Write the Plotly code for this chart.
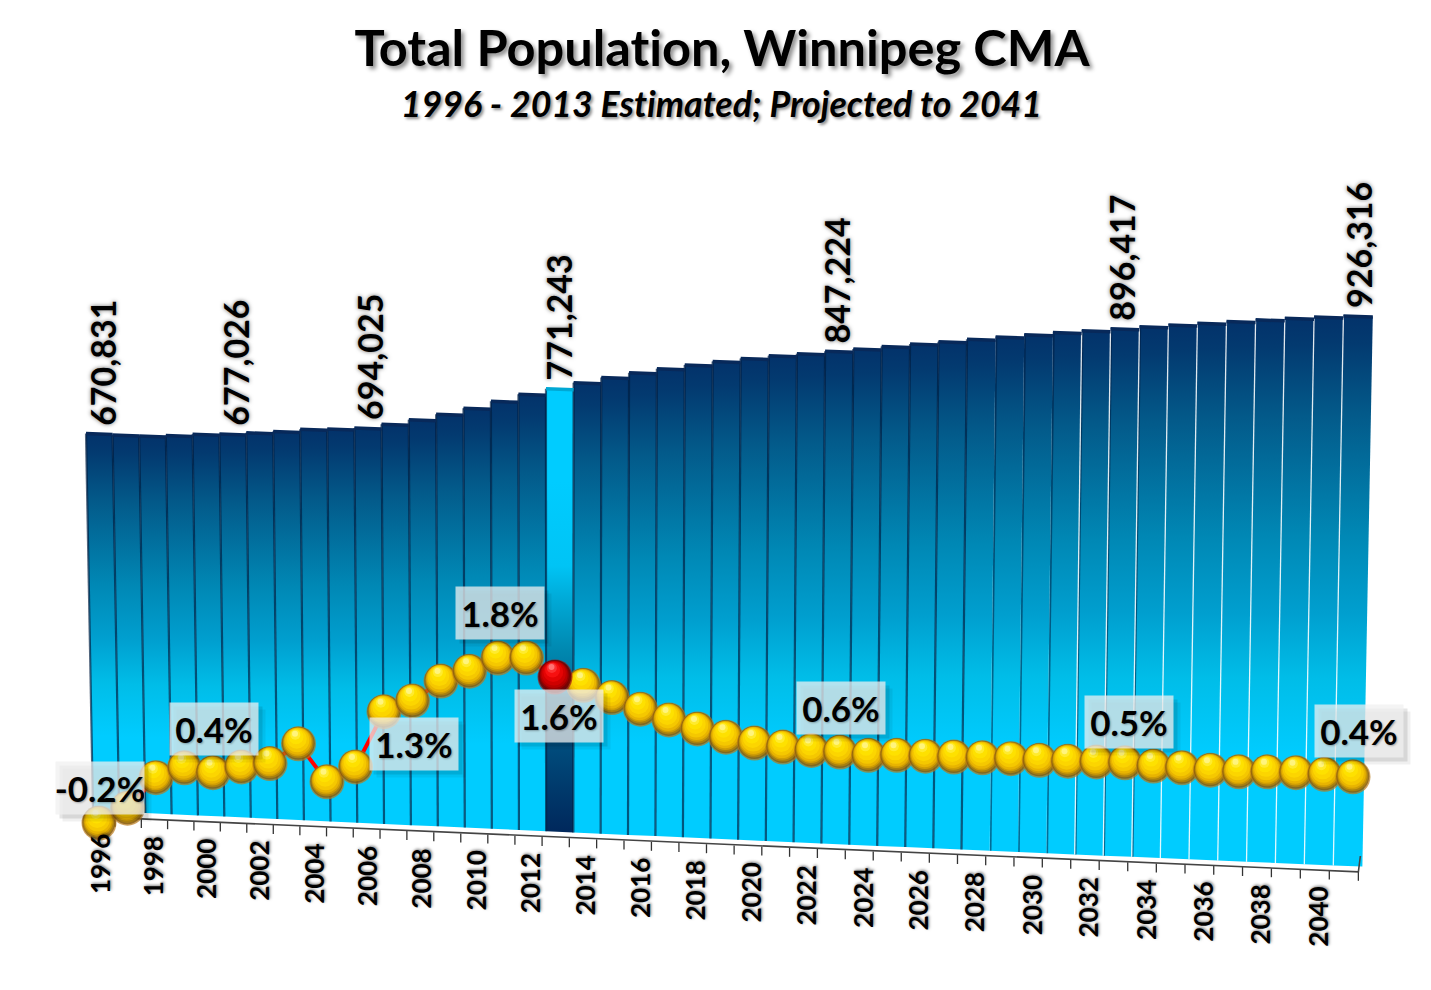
import plotly.graph_objects as go

# ---------- data ----------
years = list(range(1996, 2042))
population = [670831, 669500, 669400, 671700, 674900, 677026, 680300, 683800, 689000, 691000,
              694025, 702000, 711000, 721800, 733600, 746800, 760200, 771243, 782600, 792900,
              802300, 810700, 818300, 825200, 831600, 837600, 842000, 847224, 852500, 857800,
              863000, 868200, 873300, 878400, 883300, 888200, 892200, 896417, 900800, 905000,
              909000, 912800, 916600, 920400, 923400, 926316]
growth_years = list(range(1997, 2042))
growth = [-0.20, -0.02, 0.35, 0.47, 0.41, 0.48, 0.52, 0.76, 0.30, 0.48, 1.15, 1.28, 1.52, 1.64, 1.80,
          1.80, 1.57, 1.47, 1.32, 1.18, 1.05, 0.94, 0.84, 0.77, 0.72, 0.68, 0.66, 0.62, 0.62, 0.61,
          0.60, 0.59, 0.58, 0.56, 0.55, 0.54, 0.53, 0.49, 0.47, 0.44, 0.42, 0.42, 0.41, 0.39, 0.36]
pop_labels = {1996: ("670,831", 3), 2001: ("677,026", 3), 2006: ("694,025", 2), 2013: ("771,243", -1),
              2023: ("847,224", -3), 2033: ("896,417", -3), 2041: ("926,316", 1)}
growth_labels = {1997: ("-0.2%", 1, -35), 2001: ("0.4%", 1, -44), 2008: ("1.3%", 1, 43),
                 2011: ("1.8%", 2, -45), 2013: ("1.6%", 4, 39), 2023: ("0.6%", 1, -44),
                 2033: ("0.5%", 4, -41), 2041: ("0.4%", 6, -46)}
tick_years = list(range(1996, 2041, 2))
title_text = "Total Population, Winnipeg CMA"
subtitle_text = "1996 - 2013 Estimated; Projected to 2041"
HIGHLIGHT = 2013

W, H = 1431, 990


# ---------- axes: hidden linear scales for the perspective view ----------
def xd(px):  # screen px -> bar axis units
    return 1996 + (px - 93) / 27.54


def yd(py):  # screen px -> persons axis units
    return (811 - py) * 1770


def x2d(px):  # growth line x axis (flat overlay)
    return 1997 + (px - 99) / 28.5


def y2d(py):  # growth axis
    return (806.5 - py) / 82.5


# perspective of the tilted chart
def base_y(e):
    return 810.5 + 1.22 * e


def x_bottom(e):
    return 93 + 26.1 * e + 0.0325 * e * e


def x_top(e):
    return 86 + 26.52 * e + 0.0316 * e * e


def scale(i):
    return 5.65e-4 + 6.78e-7 * i


def top_y(i, v):
    return base_y(i + 0.5) - v * scale(i) + 1.5


body_scale = [[0, "#00ccff"], [0.2, "#00ccff"], [0.34, "#00bde8"], [0.46, "#009fcf"], [0.6, "#0088b5"],
              [0.82, "#035a8a"], [0.95, "#033a70"], [1, "#03326a"]]
hi_scale = [[0, "#00285c"], [0.1, "#003a6c"], [0.207, "#004f7f"], [0.41, "#0088b0"], [0.52, "#00a8d5"],
            [0.6, "#00c4f5"], [0.79, "#00ccff"], [1, "#00ccff"]]

fig = go.Figure()

# bars
for i, (yr, v) in enumerate(zip(years, population)):
    t = top_y(i, v)
    px = [x_bottom(i), x_top(i), x_top(i + 1), x_bottom(i + 1), x_bottom(i)]
    py = [base_y(i), t - 0.6, t + 0.6, base_y(i + 1), base_y(i)]
    fig.add_trace(go.Scatter(
        x=[xd(p) for p in px], y=[yd(p) for p in py], mode="lines", fill="toself",
        line=dict(width=0, color="rgba(0,0,0,0)"),
        fillgradient=dict(type="vertical", colorscale=hi_scale if yr == HIGHLIGHT else body_scale),
        hoverinfo="skip", showlegend=False, xaxis="x", yaxis="y"))

# separators and caps
dark_x, dark_y, thin_x, thin_y, white_x, white_y = [], [], [], [], [], []
for e in range(0, 46):
    t = top_y(e, population[e])
    ys = [yd(t), yd(base_y(e)), None]
    if e < 33:
        dark_x += [xd(x_top(e)), xd(x_bottom(e)), None]; dark_y += ys
    elif e < 39:
        thin_x += [xd(x_top(e) + 1), xd(x_bottom(e) + 1), None]; thin_y += ys
    if e >= 36:
        white_x += [xd(x_top(e)), xd(x_bottom(e)), None]; white_y += ys
fig.add_trace(go.Scatter(x=dark_x, y=dark_y, mode="lines", line=dict(color="rgba(0,30,65,0.68)", width=2.2),
                         hoverinfo="skip", showlegend=False))
fig.add_trace(go.Scatter(x=thin_x, y=thin_y, mode="lines", line=dict(color="rgba(0,30,65,0.55)", width=1.6),
                         hoverinfo="skip", showlegend=False))
fig.add_trace(go.Scatter(x=white_x, y=white_y, mode="lines", line=dict(color="rgba(255,255,255,0.85)", width=1.3),
                         hoverinfo="skip", showlegend=False))
for i, (yr, v) in enumerate(zip(years, population)):
    t = top_y(i, v)
    fig.add_trace(go.Scatter(
        x=[xd(x_top(i)), xd(x_top(i + 1))], y=[yd(t), yd(t + 1)], mode="lines",
        line=dict(color="#00a8d4" if yr == HIGHLIGHT else "#08295a", width=3.5),
        hoverinfo="skip", showlegend=False))

# floor axis with ticks
ax_x, ax_y = [], []
for e in range(0, 47):
    xx = xd(x_bottom(e) - 4)
    ax_x += [xx, xx, None]
    ax_y += [yd(816.6 + 1.2 * e), yd(825.6 + 1.2 * e), None]
fig.add_trace(go.Scatter(x=ax_x, y=ax_y, mode="lines", line=dict(color="#333333", width=1.3),
                         hoverinfo="skip", showlegend=False))
fig.add_trace(go.Scatter(
    x=[xd(x_bottom(0) - 4), xd(x_bottom(46) - 4), xd(x_bottom(46) - 2)],
    y=[yd(816.6), yd(816.6 + 1.2 * 46), yd(856)],
    mode="lines", line=dict(color="#444444", width=1.6), hoverinfo="skip", showlegend=False))

# growth line
gx = growth_years
fig.add_trace(go.Scatter(x=gx, y=growth, mode="lines", line=dict(color="#ff0000", width=4),
                         xaxis="x2", yaxis="y2", hoverinfo="skip", showlegend=False))

# spheres: stacked discs, one ball after another so that later balls cover earlier ones
disc_sizes = [35, 33, 31, 29, 27, 24, 20, 15, 10, 6]
disc_dy = [0, 0.5, 1, 1.8, 2.5, 3.5, 5, 7, 9, 10]
gold = ["#b87818", "#80580a", "#b88a08", "#e0aa00", "#f2bd00", "#fbd000", "#ffdc00", "#ffe600", "#fff040", "#fff8a0"]
ruby = ["#a01010", "#5a0000", "#800000", "#a80000", "#c40000", "#d80000", "#ec0505", "#ff1515", "#ff4040", "#ff9090"]
bx, by, bs, bc = [], [], [], []
order = [y for y in gx if y != HIGHLIGHT] + [HIGHLIGHT]
for yr in order:
    g = growth[gx.index(yr)]
    cols = ruby if yr == HIGHLIGHT else gold
    for s, dy, c in zip(disc_sizes, disc_dy, cols):
        bx.append(yr - 0.35 * dy / 28.5)
        by.append(g + dy / 82.5)
        bs.append(s)
        bc.append(c)
fig.add_trace(go.Scatter(x=bx, y=by, mode="markers", xaxis="x2", yaxis="y2", hoverinfo="skip", showlegend=False,
                         marker=dict(size=bs, color=bc, line=dict(width=0))))

annotations = []

# value labels above the bars
for i, yr in enumerate(years):
    if yr in pop_labels:
        txt, dx = pop_labels[yr]
        annotations.append(dict(
            x=xd((x_top(i) + x_top(i + 1)) / 2 + dx), y=yd(top_y(i, population[i])), xref="x", yref="y",
            text="<b>%s</b>" % txt, textangle=-90, showarrow=False, xanchor="center", yanchor="bottom",
            yshift=6, font=dict(family="Lato", size=34, color="#000000", shadow="0px 0px 4px rgba(0,0,0,0.55)")))

# year labels along the tilted floor
for yr in tick_years:
    i = yr - 1996
    annotations.append(dict(
        x=xd(100 + 26.43 * i + 0.0284 * i * i), y=yd(864 + 1.2 * i), xref="x", yref="y",
        text="<b>%d</b>" % yr, textangle=-90, showarrow=False, xanchor="center", yanchor="middle",
        font=dict(family="Lato", size=26, color="#000000", shadow="1px 1px 3px rgba(0,0,0,0.5)")))

# growth call-outs
for yr, (txt, dx, dy) in growth_labels.items():
    g = growth[gx.index(yr)]
    for off, alpha in ((7, 0.06), (4, 0.10)):
        annotations.append(dict(
            x=yr, y=g, xref="x2", yref="y2", text=" ", showarrow=False, width=88, height=52,
            xshift=dx + off, yshift=-dy - off, bgcolor="rgba(0,0,0,%g)" % alpha, borderpad=0))
    annotations.append(dict(
        x=yr, y=g, xref="x2", yref="y2", text="<b>%s</b>" % txt, showarrow=False, width=88, height=52,
        xshift=dx, yshift=-dy, bgcolor="rgba(240,240,240,0.74)", borderpad=0,
        font=dict(family="Lato", size=35, color="#000000", shadow="1px 1px 2px rgba(0,0,0,0.3)")))

# subtitle
annotations.append(dict(
    x=721 / W, y=1 - 103 / H, xref="paper", yref="paper", text="<b><i>%s</i></b>" % subtitle_text,
    showarrow=False, xanchor="center", yanchor="middle",
    font=dict(family="Lato", size=35.7, color="#000000", shadow="2px 2px 3px rgba(0,0,0,0.45)")))

axis_off = dict(visible=False, fixedrange=True)
fig.update_layout(
    width=W, height=H, margin=dict(l=0, r=0, t=0, b=0), autosize=False,
    paper_bgcolor="white", plot_bgcolor="white", showlegend=False,
    title=dict(text="<b>%s</b>" % title_text, x=722 / W, xanchor="center", y=1 - 48 / H, yanchor="middle",
               font=dict(family="Lato", size=50.5, color="#000000", shadow="3px 3px 4px rgba(0,0,0,0.45)")),
    xaxis=dict(range=[xd(0), xd(W)], **axis_off),
    yaxis=dict(range=[yd(H), yd(0)], **axis_off),
    xaxis2=dict(range=[x2d(0), x2d(W)], overlaying="x", **axis_off),
    yaxis2=dict(range=[y2d(H), y2d(0)], overlaying="y", **axis_off),
    annotations=annotations)

fig.write_html("out.html", config={"displayModeBar": False},
               post_script="document.body.style.margin='0';document.body.style.overflow='hidden';"
                           "var st=document.createElement('style');"
                           "st.textContent='text,tspan{font-variant-ligatures:none !important;font-feature-settings:\"liga\" 0 !important;}';"
                           "document.head.appendChild(st);")
